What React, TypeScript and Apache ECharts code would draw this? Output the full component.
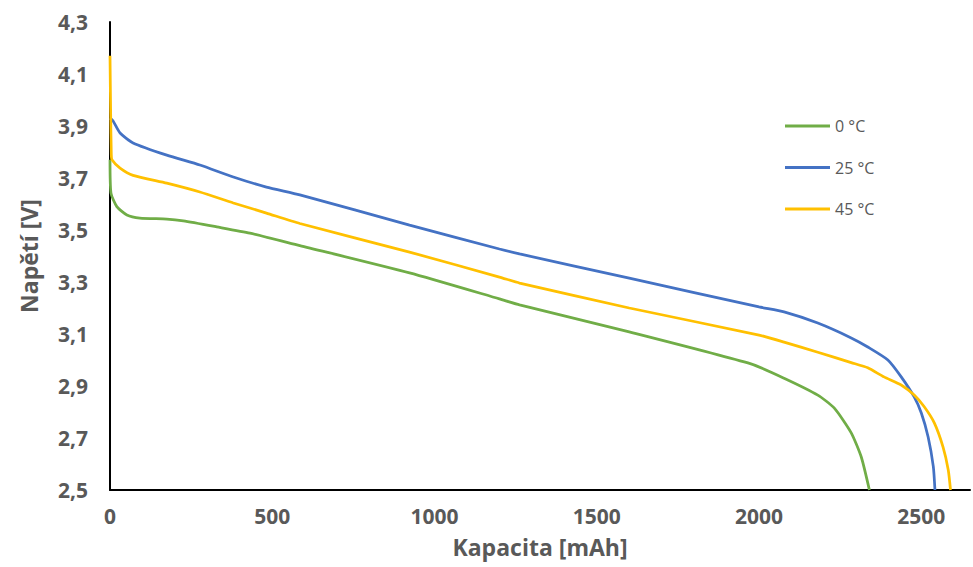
import React, { useEffect, useRef } from "react";
import * as echarts from "echarts";

const seriesNames = ["0 °C", "25 °C", "45 °C"];
const seriesColors = ["#70AD47", "#4472C4", "#FFC000"];

const cap0 = [0, 3, 21, 52, 92, 175, 226, 329, 431, 585, 923, 1200, 1262, 1600, 1975, 2077, 2181, 2232, 2284, 2315, 2340];
const volt0 = [3.77, 3.642, 3.59, 3.558, 3.546, 3.542, 3.535, 3.512, 3.488, 3.44, 3.335, 3.235, 3.212, 3.108, 2.985, 2.93, 2.865, 2.815, 2.72, 2.627, 2.5];

const cap25 = [0, 9, 31, 71, 175, 277, 380, 482, 585, 923, 1200, 1262, 1600, 2000, 2077, 2181, 2284, 2335, 2397, 2438, 2478, 2500, 2521, 2537, 2542];
const volt25 = [3.93, 3.92, 3.873, 3.835, 3.788, 3.75, 3.704, 3.665, 3.635, 3.519, 3.427, 3.408, 3.315, 3.204, 3.185, 3.142, 3.085, 3.05, 3.0, 2.935, 2.858, 2.796, 2.704, 2.59, 2.5];

const cap45 = [0, 2, 4, 6, 31, 71, 175, 277, 380, 482, 585, 923, 1200, 1262, 1600, 2000, 2077, 2181, 2284, 2335, 2385, 2438, 2478, 2509, 2540, 2567, 2583, 2590];
const volt45 = [4.17, 3.95, 3.79, 3.77, 3.738, 3.71, 3.68, 3.646, 3.604, 3.565, 3.525, 3.415, 3.319, 3.296, 3.2, 3.096, 3.069, 3.03, 2.99, 2.97, 2.935, 2.904, 2.865, 2.82, 2.758, 2.665, 2.577, 2.5];

const xMin = 0;
const xMax = 2650;
const xInterval = 500;
const yMin = 2.5;
const yMax = 4.3;
const yInterval = 0.2;

const xTitle = "Kapacita [mAh]";
const yTitle = "Napětí [V]";

const zip = (xs: number[], ys: number[]) => xs.map((x, i) => [x, ys[i]]);

export default function App() {
  const ref = useRef<HTMLDivElement>(null);
  useEffect(() => {
    if (!ref.current) return;
    const chart = echarts.init(ref.current, undefined, { renderer: "svg" });
    const data = [zip(cap0, volt0), zip(cap25, volt25), zip(cap45, volt45)];
    const labelColor = "#595959";
    chart.setOption({
      animation: false,
      backgroundColor: "#ffffff",
      grid: { left: 110, right: 3, top: 22, bottom: 77, containLabel: false },
      legend: {
        orient: "vertical",
        left: 780,
        top: 113,
        icon: "rect",
        itemWidth: 45,
        itemHeight: 3,
        itemGap: 25.5,
        textStyle: { color: labelColor, fontSize: 16, fontFamily: "Open Sans" },
        data: seriesNames,
      },
      xAxis: {
        type: "value",
        min: xMin,
        max: xMax,
        interval: xInterval,
        name: xTitle,
        nameLocation: "middle",
        nameGap: 45,
        nameTextStyle: { color: labelColor, fontSize: 23, fontWeight: "bold", fontFamily: "Open Sans" },
        axisLine: { show: true, onZero: false, lineStyle: { color: "#000000", width: 2 } },
        axisTick: { show: false },
        splitLine: { show: false },
        axisLabel: {
          color: labelColor,
          fontSize: 21,
          fontWeight: "bold",
          fontFamily: "Open Sans",
          margin: 15,
          showMaxLabel: false,
          formatter: (v: number) => String(v),
        },
      },
      yAxis: {
        type: "value",
        min: yMin,
        max: yMax,
        interval: yInterval,
        name: yTitle,
        nameLocation: "middle",
        nameGap: 70,
        nameTextStyle: { color: labelColor, fontSize: 23, fontWeight: "bold", fontFamily: "Open Sans" },
        axisLine: { show: true, onZero: false, lineStyle: { color: "#000000", width: 2 } },
        axisTick: { show: false },
        splitLine: { show: false },
        axisLabel: {
          color: labelColor,
          fontSize: 21,
          fontWeight: "bold",
          fontFamily: "Open Sans",
          margin: 22,
          formatter: (v: number) => v.toFixed(1).replace(".", ","),
        },
      },
      series: seriesNames.map((name, i) => ({
        name,
        type: "line",
        data: data[i],
        showSymbol: false,
        symbol: "none",
        smooth: 0.2,
        lineStyle: { color: seriesColors[i], width: 2.75 },
        itemStyle: { color: seriesColors[i] },
        z: i === 0 ? 3 : i === 1 ? 2 : 4,
      })),
    });
    return () => chart.dispose();
  }, []);
  return (
    <div
      ref={ref}
      style={{ position: "fixed", left: 0, top: 0, width: 973, height: 567, background: "#fff" }}
    />
  );
}
